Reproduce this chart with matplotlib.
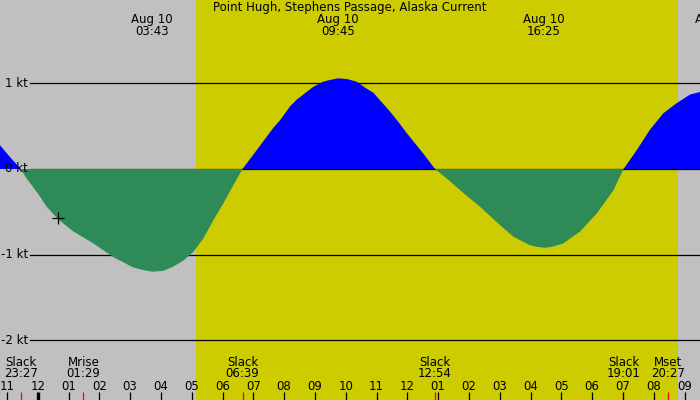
import matplotlib
matplotlib.use("Agg")
import matplotlib.pyplot as plt
import numpy as np

# ---- data (hours relative to midnight Aug 10, speed in knots) ----
times = [-1.23, -0.90, -0.55, -0.36, -0.15, 0.07, 0.29, 0.67, 1.16, 1.81, 2.46, 3.10, 3.43,
         3.72, 4.08, 4.40, 4.73, 5.05, 5.38, 5.70, 6.03, 6.35, 6.65,
         7.11, 7.65, 7.87, 8.19, 8.41, 8.73, 8.95, 9.27, 9.49, 9.76, 10.05, 10.36, 10.63,
         10.90, 11.17, 11.44, 11.71, 11.98, 12.25, 12.52, 12.90,
         13.28, 13.82, 14.36, 14.90, 15.44, 15.98, 16.20, 16.46, 16.70, 17.06, 17.61,
         18.15, 18.69, 19.02,
         19.45, 19.88, 20.31, 20.75, 21.18, 21.51]
speeds = [0.28, 0.14, 0.0, -0.11, -0.21, -0.32, -0.44, -0.59, -0.73, -0.87, -1.03, -1.15, -1.18,
          -1.20, -1.19, -1.14, -1.07, -0.97, -0.81, -0.60, -0.40, -0.19, 0.0,
          0.22, 0.48, 0.57, 0.73, 0.81, 0.90, 0.96, 1.02, 1.04, 1.06, 1.05, 1.02, 0.95,
          0.89, 0.78, 0.67, 0.55, 0.42, 0.30, 0.18, 0.0,
          -0.11, -0.28, -0.44, -0.62, -0.79, -0.89, -0.91, -0.92, -0.91, -0.87, -0.73,
          -0.52, -0.25, 0.0,
          0.22, 0.46, 0.65, 0.77, 0.87, 0.90]

title = "Point Hugh, Stephens Passage, Alaska Current"
peak_times = [3 + 43/60, 9 + 45/60, 16 + 25/60, 22 + 1/60]
peak_labels = ["03:43", "09:45", "16:25", "22:01"]
peak_dates = ["Aug 10", "Aug 10", "Aug 10", "Aug 10"]

event_times = [-(33/60), 1 + 29/60, 6 + 39/60, 12 + 54/60, 19 + 1/60, 20 + 27/60]
event_names = ["Slack", "Mrise", "Slack", "Slack", "Slack", "Mset"]
event_labels = ["23:27", "01:29", "06:39", "12:54", "19:01", "20:27"]

sunrise = 5 + 8/60
sunset = 20 + 47/60

hour_ticks = list(range(-1, 22))
hour_labels = ["%02d" % (((h % 24) + 11) % 12 + 1) for h in hour_ticks]

ylevels = [1, 0, -1, -2]
ylabels = ["1 kt", "0 kt", "-1 kt", "-2 kt"]

marker_time = 0.66
marker_speed = -0.57

# ---- figure ----
W, H = 700, 400
fig = plt.figure(figsize=(7, 4), dpi=100)
fig.patch.set_facecolor("#C0C0C0")
ax = fig.add_axes([0, 0, 1, 1])
ax.set_facecolor("#C0C0C0")
ax.set_xlim(-1.224, 21.503)
ax.set_ylim(-(400 - 169) / 85.6, 169 / 85.6)
ax.axis("off")

FS = 8.5
font = dict(family="DejaVu Sans", fontsize=FS, color="black")

ax.axvspan(sunrise, sunset, color="#CCCC00", zorder=0, lw=0)

t = np.array(times)
v = np.array(speeds)

for lv in ylevels:
    if lv != 0:
        ax.axhline(lv, xmin=30 / W, xmax=1, color="black", lw=0.9, zorder=1)

ax.fill_between(t, v, 0, where=v >= 0, interpolate=True, color="#0000FF", lw=0, zorder=2)
ax.axhline(0, xmin=30 / W, xmax=1, color="black", lw=0.9, zorder=3)
ax.fill_between(t, v, 0, where=v <= 0, interpolate=True, color="#2E8B57", lw=0, zorder=4)

ax.plot([marker_time], [marker_speed], marker="+", color="black", ms=9, mew=0.9, zorder=6)

xt = ax.get_xaxis_transform()

def yf(ypix):
    return 1 - ypix / H

for lv, lb in zip(ylevels, ylabels):
    ax.text(28 / W, lv, lb, transform=ax.get_yaxis_transform(), ha="right", va="center",
            zorder=7, **font)

ax.text(0.5, yf(8), title, transform=ax.transAxes, ha="center", va="center", **font)

for pt, pd, pl in zip(peak_times, peak_dates, peak_labels):
    ax.text(pt, yf(20), pd, transform=xt, ha="center", va="center", clip_on=False, **font)
    ax.text(pt, yf(31.5), pl, transform=xt, ha="center", va="center", clip_on=False, **font)

for et, en, el in zip(event_times, event_names, event_labels):
    ax.text(et, yf(362), en, transform=xt, ha="center", va="center", **font)
    ax.text(et, yf(373.5), el, transform=xt, ha="center", va="center", **font)
    ax.plot([et, et], [yf(392), 0], transform=xt, color="red", lw=0.9, zorder=5,
            solid_capstyle="butt")

for h, lb in zip(hour_ticks, hour_labels):
    ax.text(h, yf(386), lb, transform=xt, ha="center", va="center", **font)
    ax.plot([h, h], [yf(392), 0], transform=xt, color="black",
            lw=(2.4 if h % 24 == 0 else 0.9), zorder=5, solid_capstyle="butt")

fig.savefig("out.png", dpi=100, facecolor=fig.get_facecolor())
